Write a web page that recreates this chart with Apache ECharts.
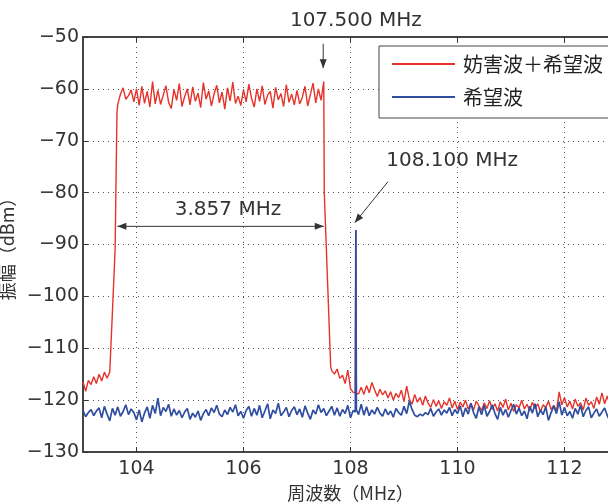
<!DOCTYPE html>
<html><head><meta charset="utf-8">
<script src="https://cdn.jsdelivr.net/npm/echarts@6/dist/echarts.min.js"></script>
<style>html,body{margin:0;padding:0;background:#fff}#c{width:608px;height:504px}</style>
</head><body><div id="c"></div>
<script>
// frequency grid: startFreq + i*stepFreq (MHz)
const startFreq = 103.0;
const stepFreq = 0.05;
const seriesNames = ['妨害波＋希望波', '希望波'];
const xTicks = [104, 106, 108, 110, 112];

// 妨害波＋希望波 (dBm), one value per 0.05 MHz from 103.00 to 113.00
const redLevel = [
  -116.5,-118.3,-116.2,-117.0,-115.5,-116.8,-115.0,-116.3,-114.6,-115.8,
  -114.6,-103.0,-91.0,-63.0,-61.0,-59.8,-62.0,-61.3,-60.2,-62.5,
  -60.0,-63.2,-59.5,-62.8,-60.5,-63.5,-58.6,-62.9,-60.3,-63.0,
  -61.2,-59.4,-62.6,-63.8,-60.1,-62.2,-59.0,-63.4,-61.5,-60.0,
  -63.1,-59.6,-62.4,-60.8,-63.6,-58.8,-62.0,-60.4,-63.3,-61.0,
  -59.3,-62.7,-60.6,-63.9,-59.8,-62.3,-58.7,-62.8,-61.4,-63.2,
  -60.2,-62.5,-59.1,-61.8,-63.5,-60.0,-62.4,-59.4,-63.0,-61.2,
  -60.5,-63.7,-59.7,-62.1,-60.9,-63.4,-59.2,-62.6,-61.0,-63.1,
  -60.3,-62.9,-61.6,-59.5,-63.3,-61.1,-58.9,-62.7,-60.0,-62.2,
  -58.6,-91.2,-105.2,-114.3,-115.0,-114.0,-115.8,-115.2,-116.8,-114.2,
  -117.8,-118.5,-87.2,-118.8,-117.5,-118.9,-117.2,-118.6,-116.6,-118.0,
  -119.3,-117.9,-119.0,-118.2,-119.6,-118.4,-120.0,-118.7,-119.5,-118.1,
  -120.3,-117.3,-119.8,-120.8,-118.9,-120.4,-119.5,-121.0,-119.2,-120.6,
  -121.4,-119.9,-121.2,-120.1,-121.6,-120.3,-121.0,-119.6,-121.5,-120.2,
  -121.8,-120.4,-121.3,-120.0,-121.7,-120.6,-121.9,-120.2,-121.1,-122.0,
  -120.5,-121.6,-120.1,-121.8,-120.7,-122.1,-120.3,-121.4,-119.8,-121.9,
  -120.6,-122.2,-120.9,-121.5,-120.0,-121.7,-120.8,-122.0,-120.4,-121.6,
  -120.7,-122.3,-120.9,-121.4,-120.2,-121.8,-121.0,-122.1,-118.4,-120.9,
  -119.5,-121.3,-120.2,-121.7,-119.8,-121.2,-120.5,-121.9,-119.6,-121.0,
  -120.3,-121.6,-119.4,-120.8,-118.6,-120.7,-119.2,-121.0,-120.0,-121.3,
  -120.5
];
// extra off-grid samples at the band edges and the carrier [MHz, dBm]
const redExtra = [[103.635,-64.5],[107.51,-80.0],[107.63,-113.6],[108.09,-118.6],[108.11,-118.7]];

// 希望波 (dBm), same grid
const blueLevel = [
  -122.0,-123.2,-122.4,-121.8,-123.0,-122.1,-121.5,-123.4,-121.2,-122.7,
  -124.0,-121.6,-122.9,-121.3,-123.1,-122.2,-120.9,-122.8,-121.7,-122.4,
  -123.8,-121.9,-124.2,-122.5,-121.3,-123.5,-121.0,-122.6,-119.6,-123.0,
  -121.4,-122.2,-120.8,-123.1,-121.7,-122.9,-122.0,-123.4,-122.3,-121.6,
  -123.7,-122.5,-123.3,-122.1,-123.9,-122.6,-121.8,-123.0,-121.5,-122.4,
  -121.0,-122.7,-123.2,-121.9,-122.8,-121.4,-122.3,-120.9,-123.0,-122.2,
  -123.5,-122.0,-121.2,-123.1,-121.6,-122.9,-121.0,-123.4,-122.1,-120.7,
  -123.6,-121.9,-122.6,-120.6,-123.0,-122.3,-121.4,-123.2,-122.0,-121.3,
  -122.8,-121.7,-123.3,-121.1,-122.5,-123.7,-121.9,-122.7,-120.9,-122.4,
  -121.6,-123.0,-122.1,-121.2,-122.9,-121.5,-123.1,-121.8,-122.6,-121.0,
  -123.4,-122.0,-87.2,-122.8,-120.8,-122.9,-121.3,-123.0,-121.9,-122.7,
  -121.4,-122.5,-123.1,-121.7,-122.8,-122.1,-123.3,-121.6,-122.4,-122.9,
  -121.2,-122.6,-120.2,-121.8,-122.9,-123.2,-122.7,-123.0,-122.4,-122.8,
  -121.6,-123.1,-122.3,-121.7,-122.9,-121.9,-122.5,-121.4,-123.0,-121.8,
  -122.6,-121.1,-123.2,-121.5,-122.7,-120.6,-122.4,-123.5,-121.3,-122.8,
  -121.0,-123.1,-122.2,-120.9,-122.6,-123.7,-121.4,-122.9,-121.8,-123.3,
  -122.0,-120.8,-122.7,-121.5,-123.0,-122.1,-123.6,-121.2,-122.5,-120.7,
  -123.2,-121.9,-122.8,-121.3,-123.9,-122.4,-121.1,-122.6,-120.3,-122.9,
  -121.4,-123.0,-122.2,-123.5,-121.6,-122.7,-121.0,-123.2,-122.0,-121.3,
  -123.4,-122.5,-121.7,-123.1,-122.3,-121.5,-123.0,-124.0,-122.8,-123.6,
  -122.9
];
const blueExtra = [[108.09,-122.3],[108.11,-121.8]];

// annotations in data units [MHz, dBm]
const spanArrow = {from:[103.643,-86.5], to:[107.5,-86.5], text:'3.857 MHz', at:[105.71,-83.3]};
const carrierArrowA = {from:[107.49,-51.3], to:[107.49,-56.0], text:'107.500 MHz', at:[108.10,-46.9]};
const carrierArrowB = {from:[108.70,-77.9], to:[108.08,-85.8], text:'108.100 MHz', at:[109.90,-73.9]};

function build(levels, extra) {
  const pts = levels.map((v, i) => [+(startFreq + i * stepFreq).toFixed(3), v]);
  return pts.concat(extra).sort((a, b) => a[0] - b[0]);
}

const RED = '#e5332a', BLUE = '#2f4ea0', INK = '#333';
const tickFont = 'DejaVu Sans';
const cjkFont = '"Noto Sans CJK JP", "Noto Sans", sans-serif';

const chart = echarts.init(document.getElementById('c'), null, {renderer: 'canvas'});
chart.setOption({
  animation: false,
  backgroundColor: '#fff',
  grid: {left: 83, top: 37, width: 535, height: 415, show: true, borderColor: '#3a3a3a', borderWidth: 1.5, outerBoundsMode: 'none', containLabel: false},
  legend: {
    orient: 'vertical', left: 379, top: 46, padding: [8, 6, 11, 13], itemGap: 13,
    itemWidth: 63, itemHeight: 2, icon: 'rect', selectedMode: false,
    backgroundColor: '#fff', borderColor: '#444', borderWidth: 1,
    textStyle: {fontFamily: cjkFont, fontSize: 20, color: '#222', padding: [0, 0, 0, 3]},
    data: seriesNames
  },
  xAxis: [{
    type: 'value', min: 103, max: 113,
    axisLine: {show: true, lineStyle: {color: '#3a3a3a', width: 1.5}},
    axisTick: {show: true, inside: true, length: 5, customValues: xTicks, lineStyle: {color: INK}},
    axisLabel: {customValues: xTicks, margin: 8, fontSize: 19, fontFamily: tickFont, color: INK},
    splitLine: {show: true, lineStyle: {type: [1, 4], color: '#555', width: 1}},
    name: '周波数（MHz）', nameLocation: 'middle', nameGap: 31,
    nameTextStyle: {fontFamily: cjkFont, fontSize: 18, color: INK}
  }, {
    type: 'value', min: 103, max: 113, position: 'top',
    axisLine: {show: true, lineStyle: {color: '#3a3a3a', width: 1.5}},
    axisTick: {show: true, inside: true, length: 5, customValues: xTicks, lineStyle: {color: INK}},
    axisLabel: {show: false}, splitLine: {show: false}
  }],
  yAxis: {
    type: 'value', min: -130, max: -50, interval: 10,
    axisLine: {show: true, lineStyle: {color: '#3a3a3a', width: 1.5}},
    axisTick: {show: true, inside: true, length: 5, lineStyle: {color: INK}},
    axisLabel: {margin: 4, fontSize: 19, fontFamily: tickFont, color: INK,
      formatter: v => String(v).replace('-', '\u2212')},
    splitLine: {show: true, lineStyle: {type: [1, 4], color: '#555', width: 1}},
    name: '振幅（dBm）', nameLocation: 'middle', nameGap: 53,
    nameTextStyle: {fontFamily: cjkFont, fontSize: 18, color: INK}
  },
  series: [{
    name: seriesNames[0], type: 'line', data: build(redLevel, redExtra),
    showSymbol: false, symbol: 'none', color: RED, z: 2,
    lineStyle: {color: RED, width: 1.4}
  }, {
    name: seriesNames[1], type: 'line', data: build(blueLevel, blueExtra),
    showSymbol: false, symbol: 'none', color: BLUE, z: 3,
    lineStyle: {color: BLUE, width: 1.7}
  }]
});

function px(p) { return chart.convertToPixel({xAxisIndex: 0, yAxisIndex: 0}, p); }
function head(tip, from, len, half) {
  const dx = tip[0] - from[0], dy = tip[1] - from[1];
  const d = Math.hypot(dx, dy), ux = dx / d, uy = dy / d;
  const bx = tip[0] - ux * len, by = tip[1] - uy * len;
  return {type: 'polygon', shape: {points: [tip, [bx - uy * half, by + ux * half], [bx + uy * half, by - ux * half]]}, style: {fill: INK}, z: 20};
}
function line(a, b) {
  return {type: 'line', shape: {x1: a[0], y1: a[1], x2: b[0], y2: b[1]}, style: {stroke: INK, lineWidth: 1}, z: 20};
}
function label(t, at) {
  const p = px(at);
  return {type: 'text', x: p[0], y: p[1], z: 20,
    style: {text: t, fill: INK, font: '20px "DejaVu Sans"', textAlign: 'center', textVerticalAlign: 'middle'}};
}
const els = [];
{
  const a = px(spanArrow.from), b = px(spanArrow.to);
  els.push(line(a, b), head(a, b, 9, 3.5), head(b, a, 9, 3.5), label(spanArrow.text, spanArrow.at));
}
[carrierArrowA, carrierArrowB].forEach(n => {
  const a = px(n.from), b = px(n.to);
  els.push(line(a, b), head(b, a, 9, 3.5), label(n.text, n.at));
});
chart.setOption({graphic: {elements: els}});
</script>
</body></html>
